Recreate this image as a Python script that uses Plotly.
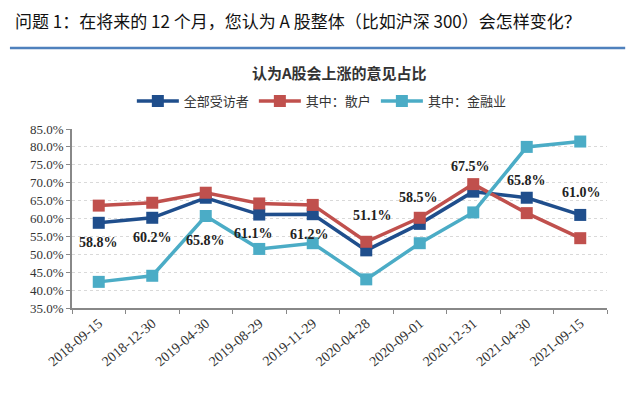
import plotly.graph_objects as go

dates = ["2018-09-15", "2018-12-30", "2019-04-30", "2019-08-29", "2019-11-29",
         "2020-04-28", "2020-09-01", "2020-12-31", "2021-04-30", "2021-09-15"]
all_resp = [58.8, 60.2, 65.8, 61.1, 61.2, 51.1, 58.5, 67.5, 65.8, 61.0]
retail = [63.6, 64.4, 67.2, 64.2, 63.8, 53.5, 60.2, 69.6, 61.5, 54.5]
finance = [42.3, 44.0, 60.7, 51.5, 53.1, 43.0, 53.1, 61.7, 80.0, 81.5]
y_ticks = [35, 40, 45, 50, 55, 60, 65, 70, 75, 80, 85]

series_names = ["全部受访者", "其中：散户", "其中：金融业"]
colors = ["#1F4E8C", "#C0504D", "#4BACC6"]

# label offsets in pixels (style only)
label_xshift = [0, 0, 0, -6, -3, 6, -1, -3, 0, 1]
label_yshift = [-20, -20, -43, -19, -20, 35, 26, 25, 17, 22]

fig = go.Figure()
for name, vals, col in zip(series_names, [all_resp, retail, finance], colors):
    fig.add_trace(go.Scatter(
        x=dates, y=vals, name=name, mode="lines+markers",
        line=dict(color=col, width=3.5),
        marker=dict(symbol="square", size=12, color=col),
    ))

annotations = []
for i, (d, v) in enumerate(zip(dates, all_resp)):
    annotations.append(dict(
        x=d, y=v, xref="x", yref="y", text=f"<b>{v:.1f}%</b>", showarrow=False,
        xshift=label_xshift[i], yshift=label_yshift[i],
        font=dict(family="Liberation Serif", size=14, color="#222222"),
    ))

annotations.append(dict(
    x=-0.11, y=1.605, xref="paper", yref="paper", xanchor="left", yanchor="middle",
    text="问题 1：在将来的 12 个月，您认为 A 股整体（比如沪深 300）会怎样变化？",
    showarrow=False, font=dict(family="Noto Sans CJK SC", size=17, color="#111111"),
))
annotations.append(dict(
    x=0.5, y=1.318, xref="paper", yref="paper", xanchor="center", yanchor="middle",
    text="<b>认为A股会上涨的意见占比</b>", showarrow=False,
    font=dict(family="Noto Sans CJK SC", size=15, color="#333333"),
))

fig.update_layout(
    width=632, height=385,
    margin=dict(l=64, r=33, t=121, b=85, autoexpand=False),
    paper_bgcolor="white", plot_bgcolor="white",
    showlegend=True,
    legend=dict(orientation="h", x=0.467, xanchor="center", y=1.156, yanchor="middle",
                font=dict(family="Noto Sans CJK SC", size=13, color="#333333"),
                traceorder="normal", itemwidth=42, bgcolor="rgba(0,0,0,0)"),
    annotations=annotations,
    shapes=[dict(type="line", xref="paper", yref="paper", x0=-0.116, x1=1.034,
                 y0=1.4525, y1=1.4525, line=dict(color="#4F81BD", width=2.5))],
)

fig.update_xaxes(
    type="category", range=[-0.5, 9.5], tickangle=-40, showgrid=False,
    showline=True, linecolor="#888888", linewidth=1.5,
    ticks="outside", ticklen=4, tickcolor="#888888", tickson="boundaries",
    tickfont=dict(family="Liberation Serif", size=14, color="#333333"),
)
fig.update_yaxes(
    range=[35, 85], tickvals=y_ticks, ticktext=[f"{t:.1f}%" for t in y_ticks],
    showgrid=True, gridcolor="#D9D9D9", griddash="dot", gridwidth=1,
    showline=True, linecolor="#888888", linewidth=1.5,
    ticks="outside", ticklen=4, tickcolor="#888888", zeroline=False,
    tickfont=dict(family="Liberation Serif", size=13, color="#333333"),
)

fig.write_html("out.html")
